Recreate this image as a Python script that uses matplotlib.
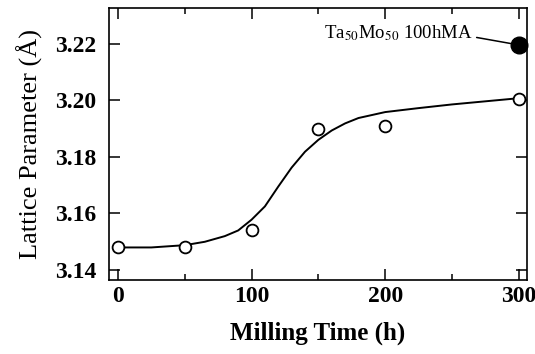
import matplotlib
matplotlib.use('Agg')
import matplotlib.pyplot as plt
from matplotlib.ticker import MultipleLocator

# measured points (open circles)
time_h = [0, 50, 100, 150, 200, 300]
lattice = [3.148, 3.148, 3.154, 3.190, 3.191, 3.2005]

# guide curve
curve_t = [0, 25, 50, 65, 80, 90, 100, 110, 120, 130, 140, 150, 160, 170, 180, 200, 225, 250, 275, 300]
curve_a = [3.148, 3.148, 3.1488, 3.150, 3.152, 3.154, 3.1578, 3.1625, 3.1695, 3.1762, 3.1818,
           3.1860, 3.1893, 3.1918, 3.1937, 3.1958, 3.1972, 3.1985, 3.1996, 3.2007]

# the 100 h MA Ta50Mo50 reference
ref_t = [300]
ref_a = [3.2195]
ref_label = r'Ta$_{50}$Mo$_{50}$ 100hMA'

plt.rcParams['font.family'] = ['Liberation Serif', 'DejaVu Serif']
plt.rcParams['mathtext.fontset'] = 'stix'

fig = plt.figure(figsize=(5.35, 3.54), dpi=100)
ax = fig.add_axes([0.2037, 0.209, 0.781, 0.768])

ax.plot(curve_t, curve_a, color='black', lw=1.4, zorder=2)
ax.plot(time_h, lattice, 'o', mfc='white', mec='black', ms=8.5, mew=1.3, clip_on=False, zorder=3)
ax.plot(ref_t, ref_a, 'o', color='black', ms=12, clip_on=False, zorder=3)

ax.annotate(ref_label, xy=(ref_t[0], ref_a[0]), xytext=(154, 3.2238),
            ha='left', va='center', fontsize=13.5,
            arrowprops=dict(arrowstyle='-', color='black', lw=1.1,
                            shrinkA=1, shrinkB=6, relpos=(1.0, 0.3)))

ax.set_xlim(-6.7, 306)
ax.set_ylim(3.1365, 3.2325)
ax.xaxis.set_major_locator(MultipleLocator(100))
ax.xaxis.set_minor_locator(MultipleLocator(50))
ax.yaxis.set_major_locator(MultipleLocator(0.02))
ax.yaxis.set_major_formatter(matplotlib.ticker.FormatStrFormatter('%.2f'))

ax.tick_params(which='both', direction='in', top=True, right=True, width=1.1)
ax.tick_params(which='major', length=8)
ax.tick_params(which='minor', length=4)
ax.tick_params(axis='x', pad=4, labelsize=17)
ax.tick_params(axis='y', pad=9, labelsize=17)
for lab in ax.get_xticklabels() + ax.get_yticklabels():
    lab.set_fontweight('bold')
for s in ax.spines.values():
    s.set_linewidth(1.2)

ax.set_xlabel('Milling Time (h)', fontsize=18, fontweight='bold', labelpad=11)
ax.set_ylabel('Lattice Parameter (Å)', fontsize=19, labelpad=9)

fig.savefig('out.png', dpi=100)
